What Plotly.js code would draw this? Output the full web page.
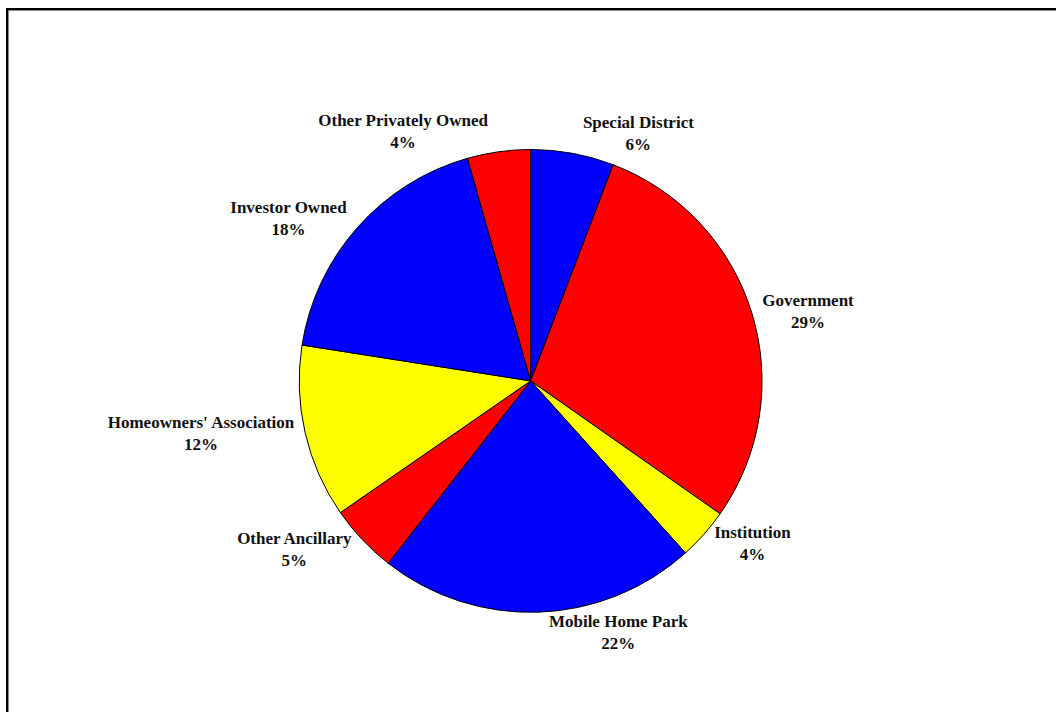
<!DOCTYPE html>
<html>
<head>
<meta charset="utf-8">
<script src="https://cdn.plot.ly/plotly-3.0.1.min.js"></script>
<style>
  html, body { margin: 0; padding: 0; background: #fff; overflow: hidden; }
  #frame { position: absolute; left: 6px; top: 8px; width: 1200px; height: 800px;
           border-top: 2px solid #000; border-left: 2px solid #000;
           box-shadow: inset 1px 1px 0 #888; }
  #chart { position: absolute; left: 0; top: 0; width: 1056px; height: 712px; }
</style>
</head>
<body>
<div id="frame"></div>
<div id="chart"></div>
<script>
const categories = ["Special District", "Government", "Institution", "Mobile Home Park",
                    "Other Ancillary", "Homeowners' Association", "Investor Owned", "Other Privately Owned"];
const shares = [5.8, 28.9, 3.6, 22.2, 4.8, 12.1, 18.1, 4.4];
const sliceColors = ["#0000FF", "#FF0000", "#FFFF00", "#0000FF", "#FF0000", "#FFFF00", "#0000FF", "#FF0000"];

const trace = {
  type: "pie",
  labels: categories,
  values: shares,
  sort: false,
  direction: "clockwise",
  rotation: 0,
  marker: { colors: sliceColors, line: { color: "#000", width: 1 } },
  textposition: "outside",
  texttemplate: "<b>%{label}</b><br><b>%{percent:.0%}</b>",
  textfont: { family: "Liberation Serif", size: 17, color: "#111" },
  hoverinfo: "label+percent",
  showlegend: false,
  domain: { x: [0.02, 0.985], y: [0.14, 0.79] }
};

const layout = {
  width: 1056, height: 712,
  margin: { l: 0, r: 0, t: 0, b: 0 },
  paper_bgcolor: "rgba(0,0,0,0)",
  plot_bgcolor: "rgba(0,0,0,0)",
  showlegend: false
};

Plotly.newPlot("chart", [trace], layout, { displayModeBar: false, staticPlot: true });
</script>
</body>
</html>
